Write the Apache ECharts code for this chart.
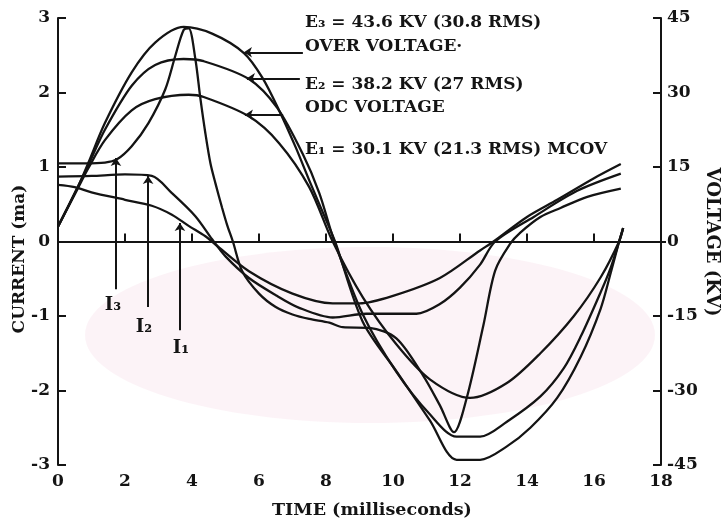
<!DOCTYPE html>
<html><head><meta charset="utf-8">
<script src="https://cdn.jsdelivr.net/npm/echarts@6/dist/echarts.min.js"></script>
<style>html,body{margin:0;padding:0;background:#fff}#c{width:728px;height:524px}</style>
</head><body><div id="c"></div>
<script>
// ---- axis ranges [min, max, interval] ----
const timeRange = [0, 18, 2];
const currentRange = [-3, 3, 1];
const voltageRange = [-45, 45, 15];

// ---- voltage waves (plotted on current scale, 1 mA <-> 15 kV) ----
const e3Time = [0, 0.6, 0.9, 1.4, 2.2, 2.9, 3.75, 4.6, 5.55, 6.1, 6.6, 7.1, 7.5, 8.0, 8.27, 9.1, 10.1, 11.1, 11.9, 12.6, 13.4, 14.1, 14.9, 15.6, 16.2, 16.5, 16.75, 16.87];
const e3Val  = [0.2, 0.74, 1.05, 1.59, 2.27, 2.67, 2.88, 2.79, 2.53, 2.2, 1.76, 1.26, 0.82, 0.29, 0, -1.08, -1.74, -2.4, -2.93, -2.93, -2.75, -2.5, -2.1, -1.55, -0.9, -0.42, 0, 0.18];

const e2Time = [0, 0.6, 0.9, 1.4, 2.2, 2.9, 3.75, 4.35, 5.7, 6.55, 7.3, 7.8, 8.25, 9.1, 10.1, 11.1, 11.9, 12.6, 13.4, 14.4, 15.1, 15.6, 16.2, 16.5, 16.75, 16.87];
const e2Val  = [0.2, 0.74, 1.02, 1.5, 2.09, 2.37, 2.45, 2.42, 2.18, 1.79, 1.18, 0.65, 0, -0.98, -1.75, -2.32, -2.62, -2.62, -2.42, -2.08, -1.7, -1.28, -0.68, -0.35, 0, 0.18];

const e1Time = [0, 0.6, 0.9, 1.4, 2.2, 2.9, 3.9, 4.35, 5.7, 6.6, 7.5, 8.2, 9.1, 10.1, 11.1, 12.3, 13.4, 14.4, 15.4, 16.2, 16.75, 16.87];
const e1Val  = [0.2, 0.72, 0.98, 1.36, 1.76, 1.91, 1.97, 1.94, 1.68, 1.32, 0.73, 0, -0.75, -1.38, -1.85, -2.1, -1.9, -1.5, -1.0, -0.48, 0, 0.18];

// ---- currents (mA) ----
const i3Time = [0, 0.8, 1.4, 1.75, 2.2, 2.7, 3.2, 3.5, 3.75, 3.9, 4.1, 4.25, 4.4, 4.55, 4.7, 4.9, 5.05, 5.22, 5.5, 6.0, 6.5, 7.0, 7.5, 8.1, 8.5, 9.3, 10.1, 10.9, 11.4, 11.82, 12.2, 12.7, 13.05, 13.5, 13.8, 14.4, 15.0, 15.8, 16.8];
const i3Val  = [1.05, 1.05, 1.06, 1.1, 1.28, 1.59, 2.04, 2.49, 2.84, 2.86, 2.45, 1.92, 1.45, 1.05, 0.78, 0.45, 0.22, 0, -0.4, -0.7, -0.88, -0.98, -1.04, -1.09, -1.15, -1.16, -1.3, -1.8, -2.2, -2.56, -2.1, -1.12, -0.39, -0.03, 0.12, 0.33, 0.45, 0.6, 0.71];

const i2Time = [0, 1.0, 2.0, 2.8, 3.4, 4.1, 4.6, 5.0, 5.7, 6.5, 7.2, 8.2, 9.2, 10.7, 11.4, 12.0, 12.6, 13.05, 14.2, 15.5, 16.8];
const i2Val  = [0.87, 0.88, 0.9, 0.88, 0.65, 0.34, 0.03, -0.2, -0.49, -0.72, -0.89, -1.02, -0.97, -0.97, -0.84, -0.62, -0.31, 0, 0.33, 0.68, 0.91];

const i1Time = [0, 0.5, 1.0, 2.0, 2.8, 3.4, 3.9, 4.4, 4.7, 5.7, 7.0, 8.2, 9.0, 10.0, 11.4, 12.6, 13.0, 14.0, 14.9, 16.0, 16.8];
const i1Val  = [0.76, 0.73, 0.66, 0.56, 0.48, 0.36, 0.21, 0.07, -0.04, -0.4, -0.7, -0.83, -0.83, -0.73, -0.49, -0.12, 0, 0.33, 0.56, 0.85, 1.04];

// ---- annotation arrows: [fromTime, fromValue, toTime, toValue] ----
const arrowE3 = [7.31, 2.54, 5.55, 2.54];
const arrowE2 = [7.22, 2.19, 5.64, 2.19];
const arrowE1 = [6.72, 1.70, 5.58, 1.70];
const arrowI3 = [1.73, -0.64, 1.73, 1.12];
const arrowI2 = [2.69, -0.88, 2.69, 0.88];
const arrowI1 = [3.64, -1.19, 3.64, 0.25];

const pair = (t, v) => t.map((x, i) => [x, v[i]]);
const arrow = a => [{coord: [a[0], a[1]]}, {coord: [a[2], a[3]]}];

const INK = '#141414';
const FONT = '"DejaVu Serif", serif';
const lbl = {color: INK, fontFamily: FONT, fontWeight: 'bold', fontSize: 17};

function curve(name, t, v, extra) {
  return Object.assign({
    name, type: 'line', data: pair(t, v), smooth: 0.3, symbol: 'none',
    lineStyle: {color: INK, width: 2.3}, silent: true, animation: false,
    xAxisIndex: 0, yAxisIndex: 0
  }, extra || {});
}

const chart = echarts.init(document.getElementById('c'), null, {renderer: 'canvas'});
const txt = (x, y, text, extra) => Object.assign({
  type: 'text', x, y, z: 10,
  style: Object.assign({text, fill: INK, font: 'bold 17px ' + FONT, align: 'left', verticalAlign: 'middle'}, (extra && extra.style) || {})
}, extra ? {rotation: extra.rotation || 0} : {});

chart.setOption({
  animation: false,
  backgroundColor: '#ffffff',
  grid: {left: 58, right: 67, top: 18, bottom: 59, containLabel: false},
  xAxis: {
    type: 'value', min: timeRange[0], max: timeRange[1], interval: timeRange[2],
    axisLine: {show: true, lineStyle: {color: INK, width: 2}},
    axisTick: {show: true, inside: true, length: 8, lineStyle: {color: INK, width: 2}},
    axisLabel: Object.assign({margin: 8}, lbl),
    splitLine: {show: false}
  },
  yAxis: [{
    type: 'value', min: currentRange[0], max: currentRange[1], interval: currentRange[2],
    axisLine: {show: true, onZero: false, lineStyle: {color: INK, width: 2}},
    axisTick: {show: true, inside: true, length: 8, lineStyle: {color: INK, width: 2}},
    axisLabel: Object.assign({margin: 8}, lbl),
    splitLine: {show: false}
  }, {
    type: 'value', position: 'right', min: voltageRange[0], max: voltageRange[1], interval: voltageRange[2],
    axisLine: {show: true, onZero: false, lineStyle: {color: INK, width: 2}},
    axisTick: {show: true, inside: true, length: 8, lineStyle: {color: INK, width: 2}},
    axisLabel: Object.assign({margin: 6}, lbl),
    splitLine: {show: false}
  }],
  graphic: [
    {type: 'ellipse', z: -1, shape: {cx: 370, cy: 335, rx: 285, ry: 88}, style: {fill: 'rgba(244,214,228,0.30)'}},
    txt(305, 23, 'E₃ = 43.6 KV (30.8 RMS)'),
    txt(305, 47, 'OVER VOLTAGE·'),
    txt(305, 85, 'E₂ = 38.2 KV (27 RMS)'),
    txt(305, 108, 'ODC VOLTAGE'),
    txt(305, 150, 'E₁ = 30.1 KV (21.3 RMS) MCOV'),
    txt(113, 305, 'I₃', {style: {align: 'center', font: 'bold 18px ' + FONT}}),
    txt(144, 327, 'I₂', {style: {align: 'center', font: 'bold 18px ' + FONT}}),
    txt(181, 348, 'I₁', {style: {align: 'center', font: 'bold 18px ' + FONT}}),
    txt(20, 259, 'CURRENT (ma)', {rotation: Math.PI / 2, style: {align: 'center'}}),
    txt(712, 242, 'VOLTAGE (KV)', {rotation: -Math.PI / 2, style: {align: 'center', font: 'bold 18px ' + FONT}}),
    txt(372, 510, 'TIME (milliseconds)', {style: {align: 'center', font: 'bold 17.5px ' + FONT}})
  ],
  series: [
    curve('E3', e3Time, e3Val),
    curve('E2', e2Time, e2Val),
    curve('E1', e1Time, e1Val, {
      markLine: {
        silent: true, animation: false, symbol: ['none', 'arrow'], symbolSize: 8,
        label: {show: false},
        lineStyle: {color: INK, width: 2, type: 'solid'},
        data: [
          [{yAxis: 0, x: 58, symbol: 'none'}, {yAxis: 0, x: 666, symbol: 'none'}],
          arrow(arrowE3), arrow(arrowE2), arrow(arrowE1),
          arrow(arrowI3), arrow(arrowI2), arrow(arrowI1)
        ]
      }
    }),
    curve('I3', i3Time, i3Val),
    curve('I2', i2Time, i2Val),
    curve('I1', i1Time, i1Val)
  ]
});
</script></body></html>
